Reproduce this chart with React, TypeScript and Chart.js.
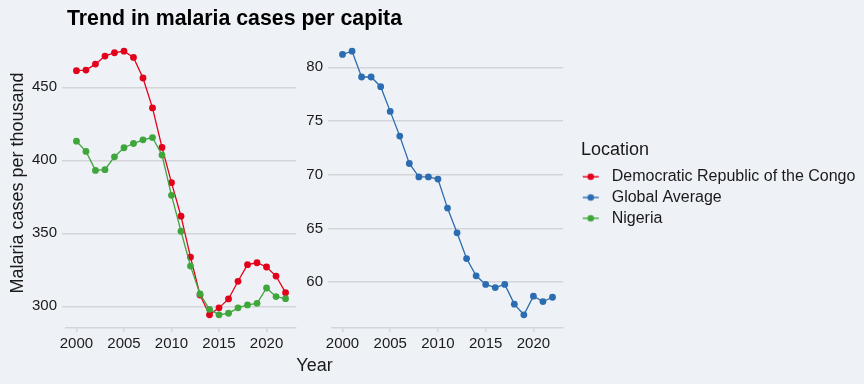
import React, { useEffect, useRef } from "react";
import { Chart, registerables } from "chart.js";

Chart.register(...registerables);

// ---------------- data ----------------
const years = [2000, 2001, 2002, 2003, 2004, 2005, 2006, 2007, 2008, 2009, 2010, 2011, 2012, 2013, 2014, 2015, 2016, 2017, 2018, 2019, 2020, 2021, 2022];
const drcCases = [461.4, 461.8, 465.9, 471.4, 473.7, 474.8, 470.5, 456.4, 435.9, 408.8, 384.7, 361.7, 333.7, 307.7, 294.1, 298.9, 305.0, 317.1, 328.5, 329.8, 326.9, 320.7, 309.3];
const nigeriaCases = [413.1, 406.1, 393.1, 393.6, 402.4, 408.6, 411.5, 414.0, 415.6, 403.6, 376.0, 351.4, 327.5, 308.4, 297.9, 294.1, 295.2, 298.9, 300.9, 302.0, 312.5, 306.6, 305.2];
const globalCases = [81.2, 81.5, 79.1, 79.1, 78.2, 75.9, 73.6, 71.05, 69.8, 69.8, 69.6, 66.9, 64.6, 62.2, 60.6, 59.8, 59.5, 59.8, 57.96, 56.97, 58.7, 58.2, 58.6];

const xTicks = [2000, 2005, 2010, 2015, 2020];
const leftYTicks = [300, 350, 400, 450];
const rightYTicks = [60, 65, 70, 75, 80];

const X_MIN = 1998.9;
const X_MAX = 2023.1;
const LEFT_Y_MIN = 285.1;
const LEFT_Y_MAX = 483.8;
const RIGHT_Y_MIN = 55.74;
const RIGHT_Y_MAX = 82.73;

const seriesNames = ["Democratic Republic of the Congo", "Global Average", "Nigeria"];
const seriesColors = ["#e3001b", "#2c6cb0", "#3fa63b"];

const chartTitle = "Trend in malaria cases per capita";
const yTitle = "Malaria cases per thousand";
const xTitle = "Year";
const legendTitle = "Location";

// ---------------- style ----------------
const FONT = "'Liberation Sans', Arial, Helvetica, sans-serif";
const TEXT_COLOR = "#1a1a1a";
const GRID_COLOR = "#d3d5d9";
const BG = "#eef1f6";

function makeMarker(color: string) {
  const c = document.createElement("canvas");
  c.width = 32;
  c.height = 14;
  const g = c.getContext("2d")!;
  g.strokeStyle = color;
  g.lineWidth = 1.4;
  g.beginPath();
  g.moveTo(4, 7);
  g.lineTo(20, 7);
  g.stroke();
  g.fillStyle = color;
  g.beginPath();
  g.arc(12, 7, 3.3, 0, Math.PI * 2);
  g.fill();
  return c;
}

const xAxis = () => ({
  type: "linear",
  min: X_MIN,
  max: X_MAX,
  afterBuildTicks: (s: any) => {
    s.ticks = xTicks.map((v) => ({ value: v }));
  },
  afterFit: (s: any) => {
    s.height = 56;
  },
  ticks: {
    autoSkip: false,
    maxRotation: 0,
    padding: 3,
    color: TEXT_COLOR,
    font: { family: FONT, size: 15 },
    callback: (v: any) => String(v),
  },
  grid: {
    display: true,
    drawOnChartArea: false,
    drawTicks: true,
    tickLength: 4,
    color: GRID_COLOR,
    lineWidth: 1.5,
  },
  border: { display: true, color: GRID_COLOR, width: 1.5 },
});

const yAxis = (min: number, max: number, ticks: number[], width: number, title?: string) => ({
  type: "linear",
  min,
  max,
  afterBuildTicks: (s: any) => {
    s.ticks = ticks.map((v) => ({ value: v }));
  },
  afterFit: (s: any) => {
    s.width = width;
  },
  ticks: {
    padding: 5,
    color: TEXT_COLOR,
    font: { family: FONT, size: 15 },
    callback: (v: any) => String(v),
  },
  grid: { color: GRID_COLOR, lineWidth: 1.5, drawTicks: true, tickLength: 4 },
  border: { display: false },
  title: title
    ? {
        display: true,
        text: title,
        color: TEXT_COLOR,
        font: { family: FONT, size: 18 },
        padding: { top: 7, bottom: 0 },
      }
    : { display: false },
});

const lineDataset = (label: string, values: number[], color: string, order: number) => ({
  label,
  data: years.map((x, i) => ({ x, y: values[i] })),
  borderColor: color,
  backgroundColor: color,
  pointBackgroundColor: color,
  pointBorderColor: color,
  borderWidth: 1.3,
  pointRadius: 3.4,
  pointHoverRadius: 3.4,
  pointBorderWidth: 0,
  tension: 0,
  order,
});

const textPlugin = {
  id: "panelText",
  afterDraw(chart: any) {
    const ctx = chart.ctx;
    const left = chart.chartArea.left;
    ctx.save();
    ctx.fillStyle = "#000000";
    ctx.font = `bold 21.3px ${FONT}`;
    ctx.textAlign = "left";
    ctx.textBaseline = "alphabetic";
    ctx.fillText(chartTitle, left + 1, 25);
    ctx.fillStyle = TEXT_COLOR;
    ctx.font = `18px ${FONT}`;
    ctx.textAlign = "center";
    ctx.fillText(xTitle, (left + 563) / 2, 371);
    ctx.restore();
  },
};

export default function App() {
  const aRef = useRef<HTMLCanvasElement>(null);
  const bRef = useRef<HTMLCanvasElement>(null);
  const cRef = useRef<HTMLCanvasElement>(null);

  useEffect(() => {
    document.body.style.margin = "0";
    document.body.style.background = BG;
    document.body.style.overflow = "hidden";

    const noPlugins = {
      legend: { display: false },
      tooltip: { enabled: false },
      title: { display: false },
    };

    const chartA = new Chart(aRef.current!, {
      type: "line",
      data: {
        datasets: [
          lineDataset(seriesNames[0], drcCases, seriesColors[0], 1),
          lineDataset(seriesNames[2], nigeriaCases, seriesColors[2], 0),
        ],
      },
      options: {
        responsive: false,
        animation: false,
        layout: { padding: { left: 0, top: 38, right: 568, bottom: 0 } },
        scales: {
          x: xAxis(),
          y: yAxis(LEFT_Y_MIN, LEFT_Y_MAX, leftYTicks, 66, yTitle),
        },
        plugins: noPlugins,
      } as any,
      plugins: [textPlugin],
    } as any);

    const chartB = new Chart(bRef.current!, {
      type: "line",
      data: {
        datasets: [lineDataset(seriesNames[1], globalCases, seriesColors[1], 0)],
      },
      options: {
        responsive: false,
        animation: false,
        layout: { padding: { left: 292, top: 38, right: 301, bottom: 0 } },
        scales: {
          x: xAxis(),
          y: yAxis(RIGHT_Y_MIN, RIGHT_Y_MAX, rightYTicks, 40),
        },
        plugins: noPlugins,
      } as any,
    } as any);

    const markers = seriesColors.map((c) => makeMarker(c));
    const chartC = new Chart(cRef.current!, {
      type: "line",
      data: { datasets: [] },
      options: {
        responsive: false,
        animation: false,
        layout: { padding: { left: 581, top: 0, right: 0, bottom: 0 } },
        scales: { x: { display: false }, y: { display: false } },
        plugins: {
          tooltip: { enabled: false },
          title: { display: false },
          legend: {
            display: true,
            position: "left",
            align: "start",
            title: {
              display: true,
              text: legendTitle,
              position: "start",
              color: TEXT_COLOR,
              font: { family: FONT, size: 18 },
              padding: { top: 141, bottom: 1.3 },
            },
            labels: {
              usePointStyle: true,
              pointStyleWidth: 17.9,
              padding: 4.8,
              color: TEXT_COLOR,
              font: { family: FONT, size: 16 },
              generateLabels: () =>
                seriesNames.map((name, i) => ({
                  text: name,
                  pointStyle: markers[i],
                  fillStyle: seriesColors[i],
                  strokeStyle: seriesColors[i],
                  fontColor: TEXT_COLOR,
                  lineWidth: 0,
                  hidden: false,
                  datasetIndex: i,
                })),
            },
          },
        },
      } as any,
    } as any);

    return () => {
      chartA.destroy();
      chartB.destroy();
      chartC.destroy();
    };
  }, []);

  const abs: React.CSSProperties = { position: "absolute", left: 0, top: 0 };
  return (
    <div
      style={{
        position: "fixed",
        left: 0,
        top: 0,
        width: 864,
        height: 384,
        overflow: "hidden",
        background: BG,
      }}
    >
      <canvas ref={aRef} width={864} height={384} style={{ ...abs, width: 864, height: 384 }} />
      <canvas ref={bRef} width={864} height={384} style={{ ...abs, width: 864, height: 384 }} />
      <canvas ref={cRef} width={1200} height={384} style={{ ...abs, width: 1200, height: 384 }} />
    </div>
  );
}
